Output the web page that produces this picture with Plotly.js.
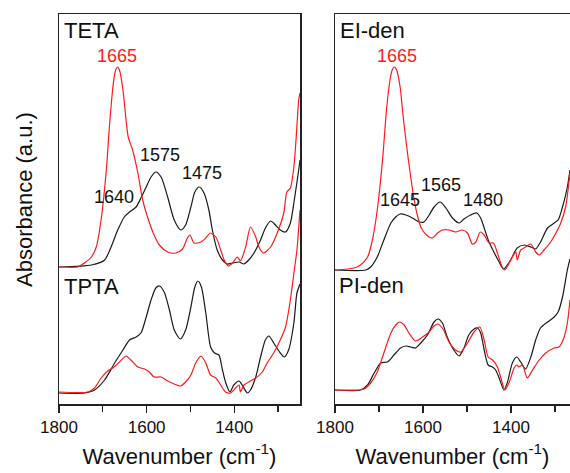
<!DOCTYPE html>
<html>
<head>
<meta charset="utf-8">
<script src="https://cdn.plot.ly/plotly-3.0.1.min.js"></script>
<style>html,body{margin:0;padding:0;background:#fff;}#chart{width:570px;height:473px;}</style>
</head>
<body>
<div id="chart"></div>
<script>
// ---- TETA (left panel, upper) ----
const tetaBlackWn = [1800,1726,1696,1666,1651,1639,1624,1613,1601,1590,1579,1567,1552,1537,1522,1511,1499,1490,1480,1469,1458,1450,1439,1427,1416,1404,1389,1378,1367,1355,1340,1329,1317,1306,1295,1283,1272,1263,1253,1250];
const tetaBlackAbs = [137,139,144,174,187,192,197,206,217,227,232,227,207,184,174,179,197,212,217,211,194,174,154,144,140,141,142,140,144,151,164,176,183,179,174,172,181,204,234,244];
const tetaRedWn = [1800,1757,1742,1726,1715,1704,1692,1685,1677,1672,1667,1662,1654,1647,1642,1632,1620,1609,1598,1583,1571,1552,1533,1518,1507,1501,1492,1476,1465,1455,1442,1431,1423,1414,1404,1393,1386,1374,1363,1351,1344,1333,1317,1302,1287,1280,1272,1264,1258,1253,1250];
const tetaRedAbs = [137,137,141,147,157,184,234,277,317,332,337,334,314,284,267,254,231,204,187,169,159,152,151,155,166,169,161,162,166,171,167,154,144,138,141,147,143,157,177,167,157,151,157,171,191,212,216,237,271,304,311];

// ---- TPTA (left panel, lower) ----
const tptaBlackWn = [1800,1742,1719,1696,1673,1654,1639,1624,1613,1601,1590,1579,1571,1560,1548,1537,1523,1511,1499,1490,1483,1475,1465,1454,1445,1435,1427,1420,1410,1401,1389,1382,1370,1363,1351,1340,1329,1321,1310,1295,1286,1276,1264,1257,1250];
const tptaBlackAbs = [11,11,14,24,41,54,64,67,71,87,104,116,118,112,94,74,65,74,97,117,123,117,91,57,51,49,34,22,12,19,23,19,11,14,27,47,64,68,61,51,47,54,81,111,120];
const tptaRedWn = [1800,1734,1719,1704,1689,1677,1662,1647,1636,1620,1605,1594,1583,1567,1552,1537,1523,1511,1499,1488,1476,1465,1454,1442,1431,1420,1408,1397,1389,1386,1378,1367,1351,1336,1325,1310,1295,1283,1272,1263,1257,1250];
const tptaRedAbs = [12,12,16,26,33,36,42,48,44,37,35,32,27,27,23,20,18,22,29,41,48,41,29,26,19,12,11,16,19,12,19,22,26,32,41,51,64,77,104,134,154,194];

// ---- EI-den (right panel, upper) ----
const eiBlackWn = [1800,1730,1719,1704,1689,1673,1662,1652,1639,1624,1609,1598,1586,1575,1561,1548,1533,1518,1507,1492,1478,1469,1461,1450,1439,1427,1417,1401,1386,1370,1355,1344,1333,1317,1302,1293,1283,1272,1266];
const eiBlackAbs = [134,134,137,147,164,181,187,190,189,186,182,182,189,197,202,196,186,181,185,189,191,186,176,162,152,142,135,144,156,159,157,155,162,176,181,184,197,217,234];
const eiRedWn = [1800,1757,1742,1726,1715,1704,1692,1683,1675,1670,1665,1660,1652,1645,1637,1628,1620,1613,1604,1592,1579,1567,1556,1541,1526,1511,1499,1488,1480,1470,1461,1450,1440,1431,1420,1414,1397,1389,1386,1378,1367,1355,1344,1336,1325,1310,1298,1287,1276,1266];
const eiRedAbs = [134,136,139,147,164,194,244,294,324,334,337,334,317,287,257,227,204,189,176,169,166,171,174,174,172,174,171,160,162,172,169,161,161,151,137,134,147,152,144,154,157,160,152,149,154,162,171,181,197,231];

// ---- PI-den (right panel, lower) ----
const piBlackWn = [1800,1742,1726,1711,1696,1681,1666,1651,1639,1628,1617,1605,1590,1575,1566,1556,1545,1530,1518,1507,1496,1484,1476,1469,1461,1452,1442,1435,1427,1416,1408,1397,1387,1378,1367,1355,1344,1333,1317,1302,1293,1283,1272,1266];
const piBlackAbs = [14,14,19,31,41,42,49,56,58,57,56,61,69,82,85,81,67,54,48,56,69,75,76,71,54,39,37,34,26,14,22,41,47,42,35,47,64,76,82,87,92,107,134,145];
const piRedWn = [1800,1734,1719,1704,1689,1673,1662,1653,1643,1632,1617,1601,1586,1575,1567,1556,1541,1526,1514,1499,1484,1471,1461,1452,1442,1431,1423,1414,1404,1393,1387,1382,1374,1363,1351,1336,1321,1302,1291,1280,1272,1266];
const piRedAbs = [14,15,21,32,51,71,79,82,79,71,63,67,72,78,80,76,62,54,52,61,72,77,64,47,44,37,26,14,22,36,39,37,39,26,34,44,51,56,57,66,81,104];

const BLACK = '#1a1a1a';
const RED = '#ff1a1a';
const FONT = 'Liberation Sans, Arial, sans-serif';

function tr(x, y, color, xa, ya) {
  return {x: x, y: y, type: 'scatter', mode: 'lines', xaxis: xa, yaxis: ya,
    line: {color: color, width: 1.2, shape: 'spline', smoothing: 0.7}, hoverinfo: 'skip'};
}

const data = [
  tr(tetaBlackWn, tetaBlackAbs, BLACK, 'x', 'y'),
  tr(tetaRedWn, tetaRedAbs, RED, 'x', 'y'),
  tr(tptaBlackWn, tptaBlackAbs, BLACK, 'x', 'y'),
  tr(tptaRedWn, tptaRedAbs, RED, 'x', 'y'),
  tr(eiBlackWn, eiBlackAbs, BLACK, 'x2', 'y2'),
  tr(eiRedWn, eiRedAbs, RED, 'x2', 'y2'),
  tr(piBlackWn, piBlackAbs, BLACK, 'x2', 'y2'),
  tr(piRedWn, piRedAbs, RED, 'x2', 'y2')
];

const xCommon = {
  showgrid: false, zeroline: false, showline: true, linecolor: '#222', linewidth: 1.5,
  ticks: 'outside', ticklen: 7, tickwidth: 1.2, tickcolor: '#222',
  tick0: 1800, dtick: 200,
  minor: {ticks: 'outside', ticklen: 6, tickwidth: 1.2, tickcolor: '#222', dtick: 100, showgrid: false},
  tickfont: {family: FONT, size: 17, color: '#111'},
  automargin: false
};
const yCommon = {
  range: [0, 390], showgrid: false, zeroline: false, showline: true, linecolor: '#222', linewidth: 1.5,
  ticks: '', showticklabels: false, automargin: false
};

function ann(x, y, text, xref, yref, color, size, xanchor) {
  return {x: x, y: y, xref: xref, yref: yref, text: text, showarrow: false,
    xanchor: xanchor || 'center', yanchor: 'middle',
    font: {family: FONT, size: size, color: color}};
}

const layout = {
  width: 570, height: 473,
  margin: {l: 0, r: 0, t: 0, b: 0},
  paper_bgcolor: '#fff', plot_bgcolor: '#fff',
  showlegend: false,
  xaxis: Object.assign({}, xCommon, {domain: [59/570, 300/570], range: [1800, 1250], mirror: true, anchor: 'y',
    title: {text: 'Wavenumber (cm<sup>-1</sup>)', font: {family: FONT, size: 22, color: '#111'}, standoff: 12}}),
  yaxis: Object.assign({}, yCommon, {domain: [69/473, 459/473], mirror: true, anchor: 'x'}),
  xaxis2: Object.assign({}, xCommon, {domain: [335/570, 1], range: [1800, 1266], mirror: true, anchor: 'y2',
    title: {text: 'Wavenumber (cm<sup>-1</sup>)', font: {family: FONT, size: 22, color: '#111'}, standoff: 12}}),
  yaxis2: Object.assign({}, yCommon, {domain: [69/473, 459/473], mirror: false, anchor: 'x2'}),
  annotations: [
    {x: 24/570, y: 1 - 200/473, xref: 'paper', yref: 'paper', text: 'Absorbance (a.u.)', textangle: -90,
      showarrow: false, xanchor: 'center', yanchor: 'middle', font: {family: FONT, size: 22, color: '#111'}},
    ann(1794, 374, 'TETA', 'x', 'y', '#111', 22, 'left'),
    ann(1668, 348, '1665', 'x', 'y', RED, 18),
    ann(1570, 249, '1575', 'x', 'y', '#111', 18),
    ann(1473, 231, '1475', 'x', 'y', '#111', 18),
    ann(1675, 207, '1640', 'x', 'y', '#111', 18),
    ann(1794, 118, 'TPTA', 'x', 'y', '#111', 22, 'left'),
    ann(1794, 374, 'EI-den', 'x2', 'y2', '#111', 22, 'left'),
    ann(1660, 348, '1665', 'x2', 'y2', RED, 18),
    ann(1559, 219, '1565', 'x2', 'y2', '#111', 18),
    ann(1652, 204, '1645', 'x2', 'y2', '#111', 18),
    ann(1464, 204, '1480', 'x2', 'y2', '#111', 18),
    ann(1795, 119, 'PI-den', 'x2', 'y2', '#111', 22, 'left')
  ]
};

Plotly.newPlot('chart', data, layout, {displayModeBar: false, staticPlot: true});
</script>
</body>
</html>
